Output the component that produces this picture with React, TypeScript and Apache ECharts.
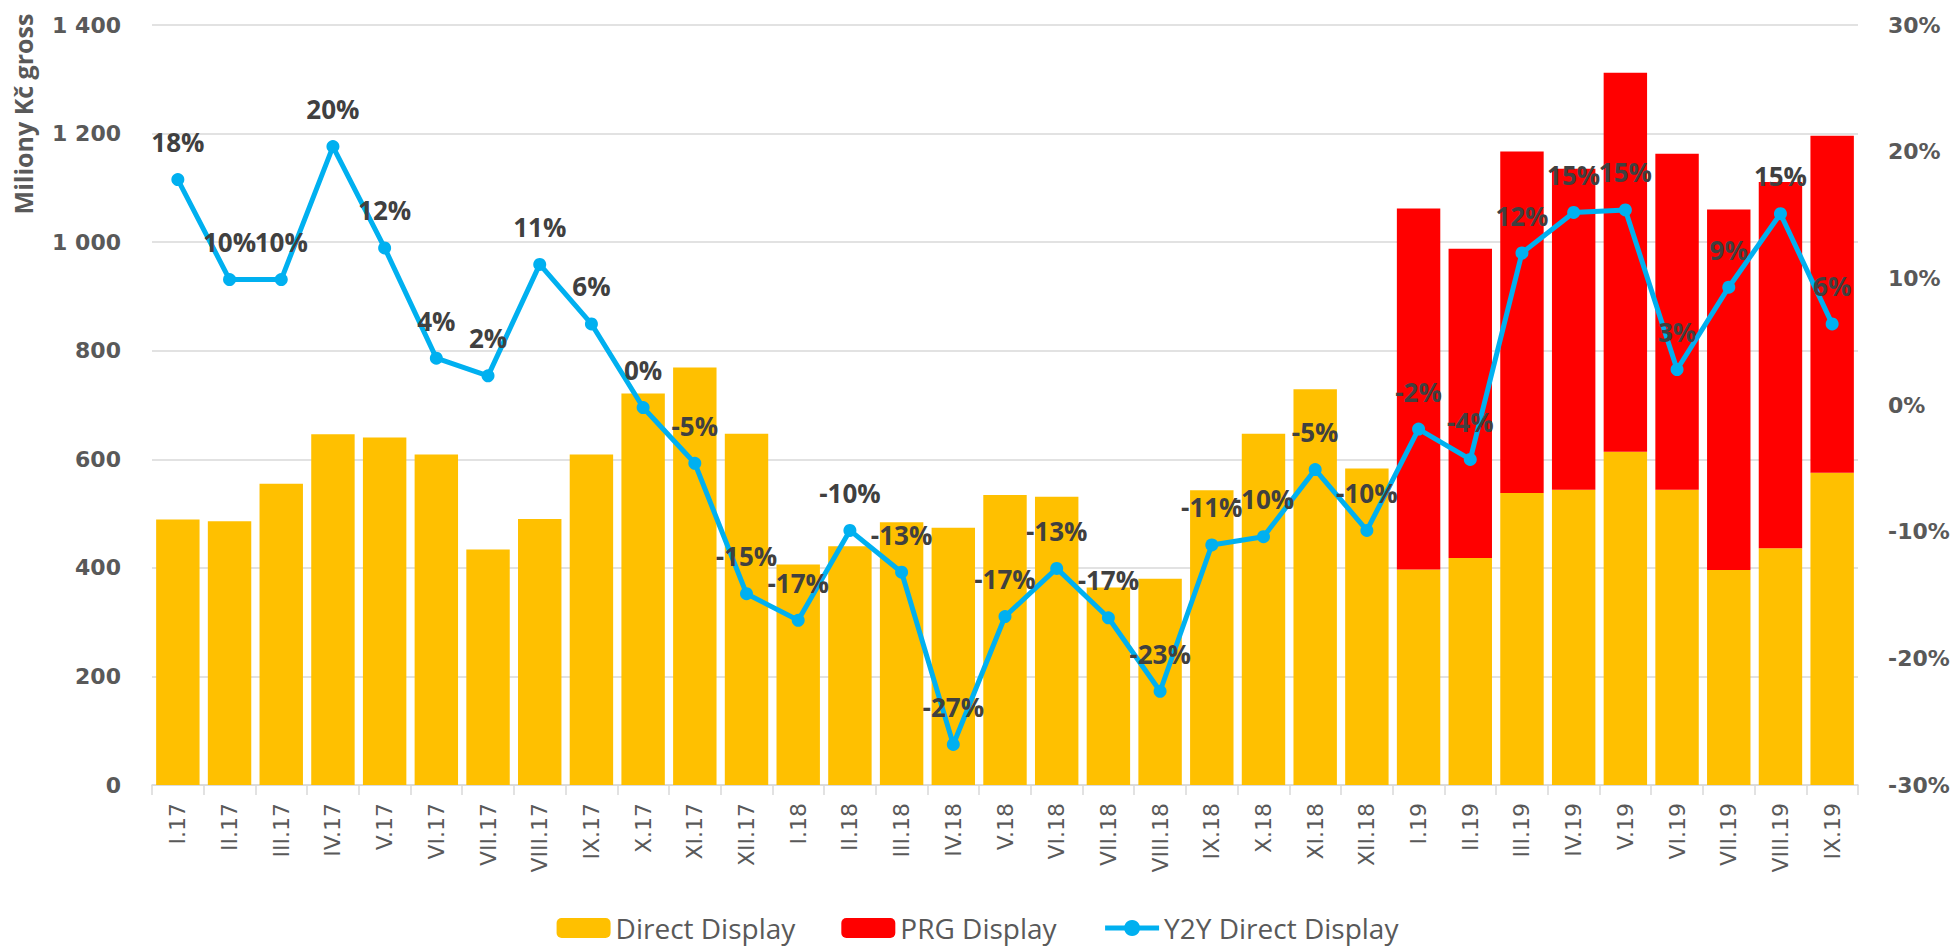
import React, { useEffect, useRef } from "react";
import * as echarts from "echarts";

const categories = [
  "I.17", "II.17", "III.17", "IV.17", "V.17", "VI.17", "VII.17", "VIII.17", "IX.17", "X.17", "XI.17", "XII.17",
  "I.18", "II.18", "III.18", "IV.18", "V.18", "VI.18", "VII.18", "VIII.18", "IX.18", "X.18", "XI.18", "XII.18",
  "I.19", "II.19", "III.19", "IV.19", "V.19", "VI.19", "VII.19", "VIII.19", "IX.19",
];

const directDisplay = [
  489, 486, 555, 646, 640, 609, 434, 490, 609, 721, 769, 647,
  406, 440, 484, 474, 534, 531, 364, 380, 543, 647, 729, 583,
  397, 418, 538, 544, 614, 544, 396, 436, 575,
];

const prgDisplay = [
  null, null, null, null, null, null, null, null, null, null, null, null,
  null, null, null, null, null, null, null, null, null, null, null, null,
  665, 570, 629, 591, 698, 619, 664, 675, 621,
];

const y2yDirect = [
  17.8, 9.9, 9.9, 20.4, 12.4, 3.7, 2.3, 11.1, 6.4, -0.2, -4.6, -14.9,
  -17.0, -9.9, -13.2, -26.8, -16.7, -12.9, -16.8, -22.6, -11.05, -10.4, -5.1, -9.9,
  -1.9, -4.3, 12.0, 15.2, 15.4, 2.8, 9.3, 15.1, 6.4,
];

const leftTicks = { min: 0, max: 1400, interval: 200 };
const rightTicks = { min: -30, max: 30, interval: 10 };

const AXIS_FONT = "'DejaVu Sans', Verdana, sans-serif";
const LABEL_FONT = "'Open Sans', 'Noto Sans', sans-serif";

export default function App() {
  const ref = useRef<HTMLDivElement>(null);

  useEffect(() => {
    if (!ref.current) return;
    const chart = echarts.init(ref.current, undefined, { renderer: "svg" });
    chart.setOption({
      animation: false,
      backgroundColor: "#ffffff",
      grid: { left: 152, right: 97, top: 25, bottom: 162, containLabel: false },
      legend: {
        left: "center",
        top: 914,
        padding: 0,
        itemWidth: 54,
        itemHeight: 20,
        itemGap: 46,
        textStyle: { fontFamily: LABEL_FONT, fontSize: 28, color: "#595959" },
        data: [
          { name: "Direct Display" },
          { name: "PRG Display" },
          { name: "Y2Y Direct Display", lineStyle: { width: 5, color: "#00B0F0" } },
        ],
      },
      graphic: [
        {
          type: "text",
          x: 23,
          y: 114,
          rotation: Math.PI / 2,
          style: {
            text: "Miliony Kč gross",
            fontFamily: LABEL_FONT,
            fontWeight: "bold",
            fontSize: 25,
            fill: "#595959",
            textAlign: "center",
            textVerticalAlign: "middle",
          },
        },
      ],
      xAxis: {
        type: "category",
        data: categories,
        boundaryGap: true,
        axisLine: { show: true, lineStyle: { color: "#d9d9d9", width: 1.5 } },
        axisTick: { show: true, alignWithLabel: false, length: 10, lineStyle: { color: "#d9d9d9", width: 1.5 } },
        axisLabel: {
          rotate: 90,
          margin: 18,
          interval: 0,
          fontFamily: AXIS_FONT,
          fontSize: 22,
          color: "#595959",
        },
      },
      yAxis: [
        {
          type: "value",
          min: leftTicks.min,
          max: leftTicks.max,
          interval: leftTicks.interval,
          axisLine: { show: false },
          axisTick: { show: false },
          splitLine: { show: true, lineStyle: { color: "#d9d9d9", width: 1.5 } },
          axisLabel: {
            margin: 31,
            fontFamily: AXIS_FONT,
            fontWeight: "bold",
            fontSize: 22,
            color: "#595959",
            formatter: (v: number) => {
              const s = String(v);
              return s.length > 3 ? s.slice(0, s.length - 3) + " " + s.slice(s.length - 3) : s;
            },
          },
        },
        {
          type: "value",
          min: rightTicks.min,
          max: rightTicks.max,
          interval: rightTicks.interval,
          axisLine: { show: false },
          axisTick: { show: false },
          splitLine: { show: false },
          axisLabel: {
            margin: 30,
            fontFamily: AXIS_FONT,
            fontWeight: "bold",
            fontSize: 22,
            color: "#595959",
            formatter: (v: number) => `${v}%`,
          },
        },
      ],
      series: [
        {
          name: "Direct Display",
          type: "bar",
          stack: "total",
          data: directDisplay,
          barCategoryGap: "16%",
          itemStyle: { color: "#FFC000" },
          z: 2,
        },
        {
          name: "PRG Display",
          type: "bar",
          stack: "total",
          data: prgDisplay,
          barCategoryGap: "16%",
          itemStyle: { color: "#FF0000" },
          z: 2,
        },
        {
          name: "Y2Y Direct Display",
          type: "line",
          yAxisIndex: 1,
          data: y2yDirect,
          symbol: "circle",
          symbolSize: 13,
          lineStyle: { color: "#00B0F0", width: 5 },
          itemStyle: { color: "#00B0F0" },
          z: 5,
          label: {
            show: true,
            position: "top",
            distance: 18,
            fontFamily: LABEL_FONT,
            fontWeight: "bold",
            fontSize: 26,
            color: "#404040",
            formatter: (p: any) => `${Math.round(p.value) === 0 ? 0 : Math.round(p.value)}%`,
          },
        },
      ],
    });
    return () => chart.dispose();
  }, []);

  return (
    <div
      ref={ref}
      style={{ position: "absolute", left: 0, top: 0, width: 1955, height: 947 }}
    />
  );
}
